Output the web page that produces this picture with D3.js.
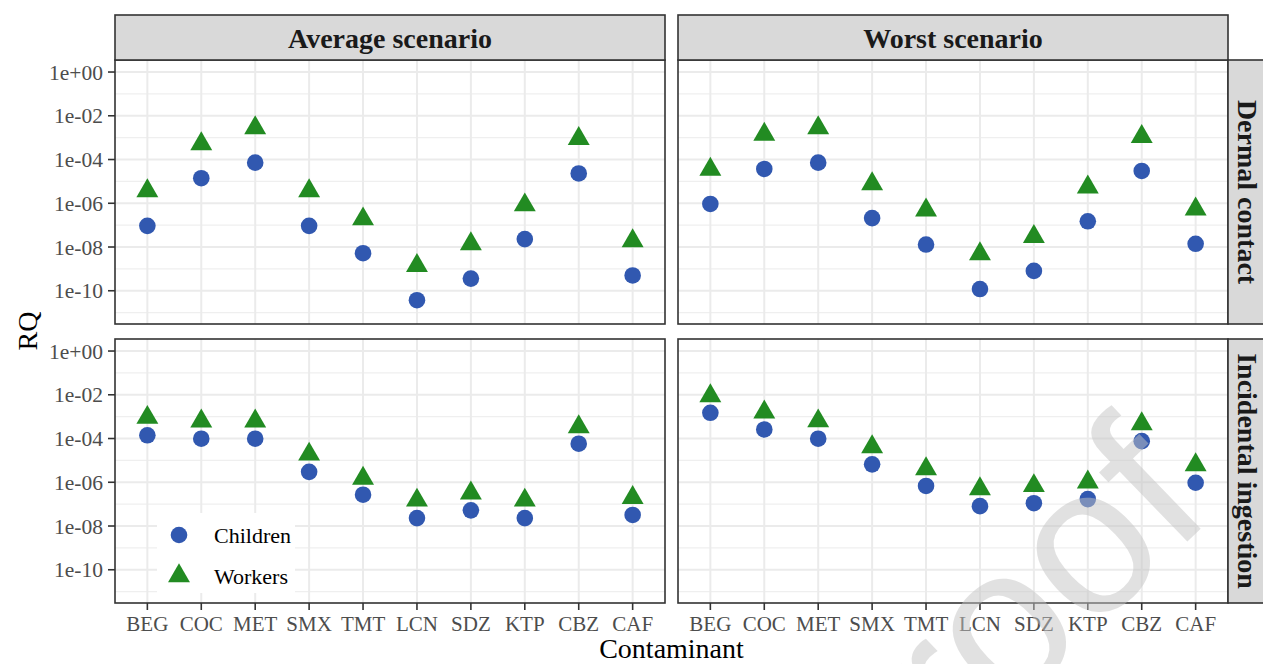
<!DOCTYPE html>
<html>
<head>
<meta charset="utf-8">
<script src="https://d3js.org/d3.v7.min.js"></script>
<style>
  body { margin: 0; background: #fff; }
  text { font-family: "Liberation Serif", "Times New Roman", serif; }
</style>
</head>
<body>
<script>
// contaminants on the x axis
var contaminants = ["BEG", "COC", "MET", "SMX", "TMT", "LCN", "SDZ", "KTP", "CBZ", "CAF"];
var scenarios = ["Average scenario", "Worst scenario"];
var routes = ["Dermal contact", "Incidental ingestion"];

// RQ values
var avgDermalChildren = [9.3e-8, 1.4e-5, 7.2e-5, 9.3e-8, 5.2e-9, 3.7e-11, 3.6e-10, 2.3e-8, 2.3e-5, 5.0e-10];
var avgDermalWorkers  = [3.7e-6, 5.2e-4, 2.8e-3, 3.7e-6, 1.9e-7, 1.4e-9, 1.4e-8, 8.3e-7, 8.9e-4, 1.9e-8];
var worstDermalChildren = [9.3e-7, 3.7e-5, 7.2e-5, 2.1e-7, 1.3e-8, 1.2e-10, 8.1e-10, 1.5e-7, 3.0e-5, 1.4e-8];
var worstDermalWorkers  = [3.5e-5, 1.4e-3, 2.8e-3, 7.6e-6, 4.8e-7, 4.8e-9, 3.0e-8, 5.4e-6, 1.1e-3, 5.4e-7];
var avgIngestChildren = [1.4e-4, 9.8e-5, 9.8e-5, 3.0e-6, 2.7e-7, 2.3e-8, 5.2e-8, 2.3e-8, 5.8e-5, 3.2e-8];
var avgIngestWorkers  = [9.1e-4, 6.2e-4, 6.2e-4, 1.9e-5, 1.5e-6, 1.5e-7, 3.2e-7, 1.5e-7, 3.4e-4, 2.0e-7];
var worstIngestChildren = [1.5e-3, 2.6e-4, 9.8e-5, 6.6e-6, 6.8e-7, 8.1e-8, 1.1e-7, 1.7e-7, 7.6e-5, 9.5e-7];
var worstIngestWorkers  = [8.9e-3, 1.6e-3, 6.3e-4, 4.1e-5, 4.1e-6, 5.0e-7, 6.9e-7, 1.0e-6, 4.6e-4, 6.2e-6];

var yTicks = [1, 1e-2, 1e-4, 1e-6, 1e-8, 1e-10];
var yTickLabels = ["1e+00", "1e-02", "1e-04", "1e-06", "1e-08", "1e-10"];
var yMinor = [1e-1, 1e-3, 1e-5, 1e-7, 1e-9, 1e-11];

var groups = ["Children", "Workers"];

var panels = [
  { col: 0, row: 0, children: avgDermalChildren, workers: avgDermalWorkers },
  { col: 1, row: 0, children: worstDermalChildren, workers: worstDermalWorkers },
  { col: 0, row: 1, children: avgIngestChildren, workers: avgIngestWorkers },
  { col: 1, row: 1, children: worstIngestChildren, workers: worstIngestWorkers }
];

var width = 1263, height = 664;
var colX = [115, 678], rowY = [60, 339];
var pw = 550, ph = 264;
var blue = "#3158B0", green = "#228B22";

var svg = d3.select("body").append("svg")
  .attr("width", width)
  .attr("height", height);

// ggplot discrete expansion: 0.6 units on each side
var x = d3.scalePoint().domain(contaminants).range([0, pw]).padding(0.6);
var y = d3.scaleLog().domain([Math.pow(10, -11.52), Math.pow(10, 0.55)]).range([ph, 0]);

var circle = d3.symbol().type(d3.symbolCircle).size(Math.PI * 8.3 * 8.3);
var tri = d3.symbol().type(d3.symbolTriangle).size(208);

panels.forEach(function(p) {
  var g = svg.append("g").attr("transform", "translate(" + colX[p.col] + "," + rowY[p.row] + ")");

  g.append("rect").attr("width", pw).attr("height", ph).attr("fill", "#fff");

  g.selectAll(".minor").data(yMinor).enter().append("line")
    .attr("x1", 0).attr("x2", pw)
    .attr("y1", function(d) { return y(d); }).attr("y2", function(d) { return y(d); })
    .attr("stroke", "#EFEFEF").attr("stroke-width", 1.1);

  g.selectAll(".majory").data(yTicks).enter().append("line")
    .attr("x1", 0).attr("x2", pw)
    .attr("y1", function(d) { return y(d); }).attr("y2", function(d) { return y(d); })
    .attr("stroke", "#EBEBEB").attr("stroke-width", 2);

  g.selectAll(".majorx").data(contaminants).enter().append("line")
    .attr("y1", 0).attr("y2", ph)
    .attr("x1", function(d) { return x(d); }).attr("x2", function(d) { return x(d); })
    .attr("stroke", "#EBEBEB").attr("stroke-width", 2);

  // legend box sits inside the lower left panel, above the grid
  if (p.col === 0 && p.row === 1) {
    var lg = svg.append("g");
    lg.append("rect").attr("x", 157).attr("y", 513).attr("width", 138).attr("height", 80).attr("fill", "#fff");
    lg.append("path").attr("d", circle).attr("fill", blue).attr("transform", "translate(179,535)");
    lg.append("path").attr("d", tri).attr("fill", green).attr("transform", "translate(179,576)");
    lg.selectAll(".lt").data(groups).enter().append("text")
      .attr("x", 214).attr("y", function(d, i) { return 543 + i * 41; })
      .attr("font-size", 22).attr("fill", "#000")
      .text(function(d) { return d; });
  }

  var pts = g.append("g");
  contaminants.forEach(function(c, i) {
    pts.append("path").attr("d", circle).attr("fill", blue)
      .attr("transform", "translate(" + x(c) + "," + y(p.children[i]) + ")");
    pts.append("path").attr("d", tri).attr("fill", green)
      .attr("transform", "translate(" + x(c) + "," + y(p.workers[i]) + ")");
  });

  g.append("rect").attr("width", pw).attr("height", ph)
    .attr("fill", "none").attr("stroke", "#333").attr("stroke-width", 1.6);

  if (p.col === 0) {
    var ya = g.append("g");
    ya.selectAll("line").data(yTicks).enter().append("line")
      .attr("x1", -7).attr("x2", 0)
      .attr("y1", function(d) { return y(d); }).attr("y2", function(d) { return y(d); })
      .attr("stroke", "#333").attr("stroke-width", 1.6);
    ya.selectAll("text").data(yTicks).enter().append("text")
      .attr("x", -12).attr("y", function(d) { return y(d); })
      .attr("dy", "0.35em").attr("text-anchor", "end")
      .attr("font-size", 21.5).attr("fill", "#4D4D4D")
      .text(function(d, i) { return yTickLabels[i]; });
  }
  if (p.row === 1) {
    var xa = g.append("g");
    xa.selectAll("line").data(contaminants).enter().append("line")
      .attr("y1", ph).attr("y2", ph + 7)
      .attr("x1", function(d) { return x(d); }).attr("x2", function(d) { return x(d); })
      .attr("stroke", "#333").attr("stroke-width", 1.6);
    xa.selectAll("text").data(contaminants).enter().append("text")
      .attr("x", function(d) { return x(d); }).attr("y", ph + 28)
      .attr("text-anchor", "middle")
      .attr("font-size", 21).attr("fill", "#4D4D4D")
      .text(function(d) { return d; });
  }
});

// column strips
scenarios.forEach(function(s, i) {
  var g = svg.append("g").attr("transform", "translate(" + colX[i] + ",15)");
  g.append("rect").attr("width", pw).attr("height", 45)
    .attr("fill", "#D9D9D9").attr("stroke", "#333").attr("stroke-width", 1.6);
  g.append("text").attr("x", pw / 2).attr("y", 33)
    .attr("text-anchor", "middle").attr("font-size", 28).attr("font-weight", "bold").attr("fill", "#1A1A1A")
    .text(s);
});

// row strips (cut by the right edge)
routes.forEach(function(r, i) {
  var g = svg.append("g").attr("transform", "translate(1228," + rowY[i] + ")");
  g.append("rect").attr("width", 45).attr("height", ph)
    .attr("fill", "#D9D9D9").attr("stroke", "#333").attr("stroke-width", 1.6);
  g.append("text")
    .attr("transform", "translate(10," + (ph / 2) + ") rotate(90)")
    .attr("text-anchor", "middle").attr("font-size", 28).attr("font-weight", "bold").attr("fill", "#1A1A1A")
    .text(r);
});

svg.append("text")
  .attr("x", colX[1] - 6.5).attr("y", 658)
  .attr("text-anchor", "middle").attr("font-size", 28).attr("fill", "#000")
  .text("Contaminant");

svg.append("text")
  .attr("transform", "translate(37,331) rotate(-90)")
  .attr("text-anchor", "middle").attr("font-size", 28).attr("fill", "#000")
  .text("RQ");

// proof watermark
svg.append("text")
  .attr("transform", "translate(1216,514) rotate(-44)")
  .attr("text-anchor", "end")
  .style("font-family", "'Liberation Sans', Arial, sans-serif")
  .attr("font-size", 210)
  .attr("fill", "#c4c4c4").attr("fill-opacity", 0.5)
  .text("Journal Pre-proof");
</script>
</body>
</html>
